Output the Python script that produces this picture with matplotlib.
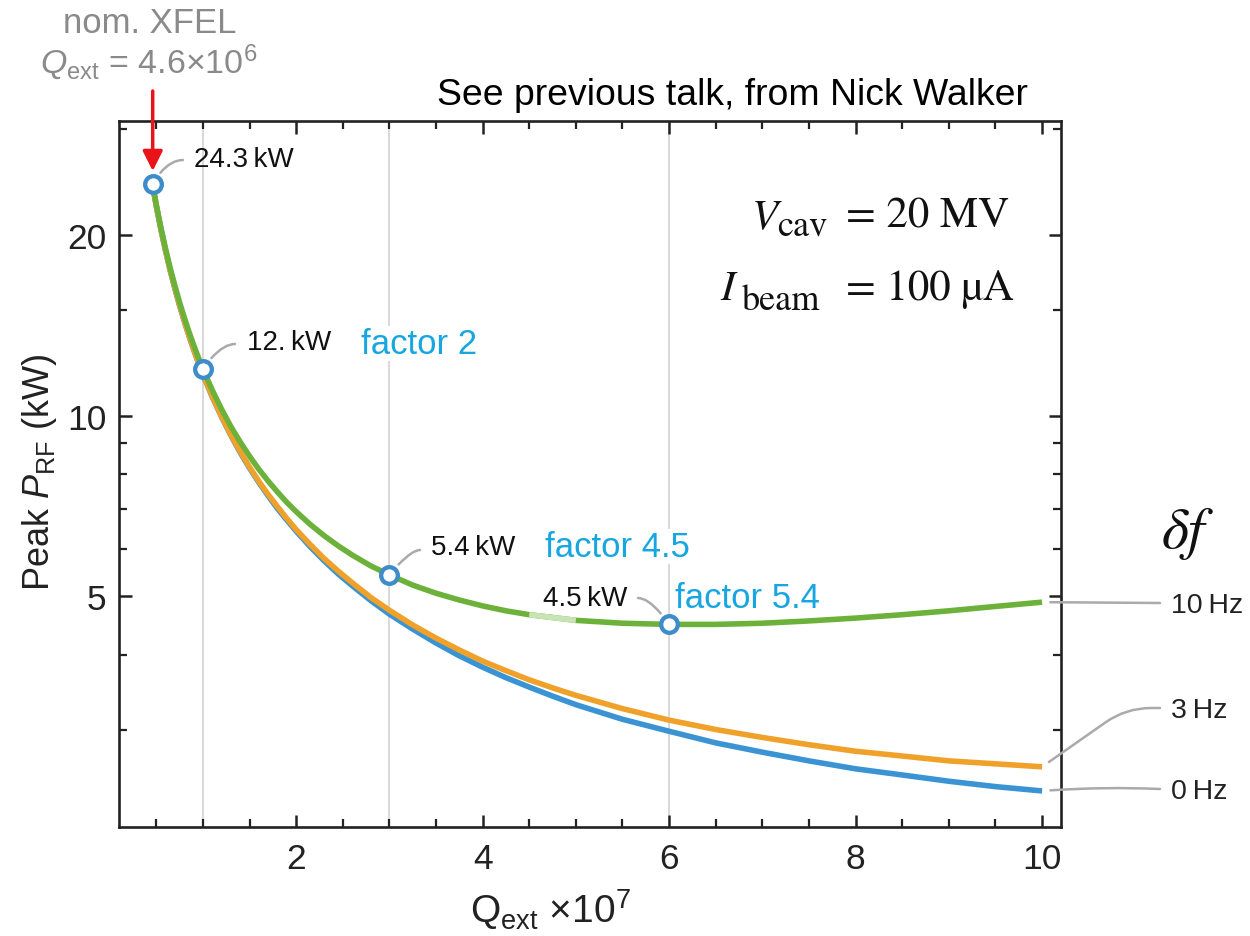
import matplotlib
matplotlib.use('Agg')
import matplotlib.pyplot as plt
from matplotlib.patches import FancyArrowPatch
from matplotlib.ticker import FixedLocator, NullFormatter, FixedFormatter

# ---------------- data ----------------
q_ext = [0.46, 0.5, 0.55, 0.6, 0.65, 0.7, 0.75, 0.8, 0.85, 0.9, 0.95, 1.0, 1.1, 1.2,
         1.3, 1.4, 1.5, 1.6, 1.7, 1.8, 1.9, 2.0, 2.15, 2.3, 2.45, 2.6, 2.8, 3.0,
         3.25, 3.5, 3.75, 4.0, 4.25, 4.5, 4.75, 5.0, 5.5, 6.0, 6.5, 7.0, 7.5, 8.0,
         8.5, 9.0, 9.5, 10.0]
p_0hz = [24.19, 22.34, 20.41, 18.80, 17.43, 16.27, 15.25, 14.37, 13.59, 12.89, 12.27,
         11.71, 10.75, 9.95, 9.27, 8.68, 8.18, 7.74, 7.35, 7.00, 6.70, 6.42, 6.05,
         5.73, 5.45, 5.21, 4.92, 4.67, 4.41, 4.18, 3.98, 3.81, 3.66, 3.53, 3.41,
         3.30, 3.12, 2.98, 2.85, 2.75, 2.66, 2.58, 2.52, 2.46, 2.41, 2.37]
p_3hz = [24.20, 22.35, 20.42, 18.81, 17.44, 16.29, 15.27, 14.39, 13.61, 12.91, 12.29,
         11.73, 10.77, 9.97, 9.29, 8.71, 8.21, 7.77, 7.39, 7.05, 6.74, 6.46, 6.10,
         5.78, 5.51, 5.27, 4.98, 4.74, 4.48, 4.26, 4.07, 3.90, 3.76, 3.63, 3.52,
         3.42, 3.25, 3.11, 3.00, 2.91, 2.83, 2.76, 2.71, 2.66, 2.63, 2.60]
p_10hz = [24.31, 22.47, 20.55, 18.95, 17.59, 16.45, 15.44, 14.57, 13.80, 13.12, 12.51,
          11.96, 11.03, 10.25, 9.59, 9.04, 8.56, 8.14, 7.78, 7.46, 7.17, 6.92, 6.59,
          6.31, 6.07, 5.86, 5.62, 5.43, 5.22, 5.06, 4.93, 4.82, 4.73, 4.66, 4.61,
          4.56, 4.51, 4.49, 4.49, 4.51, 4.55, 4.60, 4.66, 4.73, 4.81, 4.89]
series_labels = ['0\u2009Hz', '3\u2009Hz', '10\u2009Hz']

marker_q = [0.46, 1.0, 3.0, 6.0]
marker_p = [24.3, 11.96, 5.43, 4.49]
marker_labels = ['24.3\u2009kW', '12.\u2009kW', '5.4\u2009kW', '4.5\u2009kW']
factor_labels = ['factor 2', 'factor 4.5', 'factor 5.4']
grid_q = [1.0, 3.0, 6.0]

x_major = [2, 4, 6, 8, 10]
x_minor = [0.5, 1, 1.5, 2.5, 3, 3.5, 4.5, 5, 5.5, 6.5, 7, 7.5, 8.5, 9, 9.5]
y_major = [5, 10, 20]
y_minor = [3, 4, 6, 7, 8, 9, 15, 30]

# ---------------- style ----------------
plt.rcParams['font.family'] = ['Liberation Sans', 'DejaVu Sans']
plt.rcParams['mathtext.fontset'] = 'custom'
plt.rcParams['mathtext.rm'] = 'Liberation Sans'
plt.rcParams['mathtext.it'] = 'Liberation Sans:italic'
plt.rcParams['mathtext.bf'] = 'Liberation Sans:bold'

C_BLUE = '#3a93d2'
C_ORANGE = '#f0a12a'
C_GREEN = '#6cb13a'
C_PALE = '#c9e4b4'
C_MARK = '#3f8cca'
C_FACTOR = '#17a6e0'
C_LEAD = '#aaaaaa'
C_GRAYTXT = '#8a8a8a'

W, H = 1250, 937
fig = plt.figure(figsize=(W / 100, H / 100), dpi=100)


def fx(x):
    return x / W


def fy(y):
    return 1 - y / H


ax = fig.add_axes([fx(119), fy(828), (1060.7 - 119) / W, (828 - 121.7) / H])
ax.set_yscale('log')
ax.set_xlim(0.1, 10.2)
ax.set_ylim(2.064, 31.0)

for s in ax.spines.values():
    s.set_linewidth(1.9)
    s.set_color('#222222')

ax.xaxis.set_major_locator(FixedLocator(x_major))
ax.xaxis.set_minor_locator(FixedLocator(x_minor))
ax.xaxis.set_major_formatter(FixedFormatter([str(v) for v in x_major]))
ax.xaxis.set_minor_formatter(NullFormatter())
ax.yaxis.set_major_locator(FixedLocator(y_major))
ax.yaxis.set_minor_locator(FixedLocator(y_minor))
ax.yaxis.set_major_formatter(FixedFormatter([str(v) for v in y_major]))
ax.yaxis.set_minor_formatter(NullFormatter())
ax.tick_params(which='both', direction='in', top=True, right=True,
               color='#222222', labelsize=25.5, labelcolor='#222222')
ax.tick_params(which='major', length=9, width=1.8)
ax.tick_params(which='minor', length=6, width=1.6)
ax.tick_params(axis='x', pad=11)
ax.tick_params(axis='y', pad=9)

for g in grid_q:
    ax.axvline(g, color='#d6d6d6', lw=1.3, zorder=0.5)

LW = 4.0
ax.plot(q_ext, p_0hz, color=C_BLUE, lw=LW, solid_capstyle='butt', zorder=2)
ax.plot(q_ext, p_3hz, color=C_ORANGE, lw=LW, solid_capstyle='butt', zorder=2.1)
ax.plot(q_ext, p_10hz, color=C_GREEN, lw=LW, solid_capstyle='butt', zorder=2.2)
i0, i1 = q_ext.index(4.5), q_ext.index(5.0)
ax.plot(q_ext[i0:i1 + 1], p_10hz[i0:i1 + 1], color=C_PALE, lw=LW,
        solid_capstyle='butt', zorder=2.3)

ax.plot(marker_q, marker_p, ls='none', marker='o', ms=12, mew=3.1,
        mfc='white', mec=C_MARK, zorder=5, clip_on=False)

# marker callouts: label positions (pixels) and leader ends
label_pos = [(194, 167, 'left'), (247, 350, 'left'), (431, 555, 'left'), (627, 606, 'right')]
lead_end = [(183, 161, 60), (235, 345, 55), (420, 551, 50), (638, 599, 125)]
for q, p, txt, (lx, ly, ha), (ex, ey, ang) in zip(marker_q, marker_p, marker_labels,
                                                   label_pos, lead_end):
    fig.text(fx(lx), fy(ly), txt, ha=ha, va='baseline', fontsize=20, color='#111111')
    ax.annotate('', xy=(q, p), xycoords='data', xytext=(ex, H - ey),
                textcoords='figure pixels',
                arrowprops=dict(arrowstyle='-', color=C_LEAD, lw=1.8,
                                shrinkA=0, shrinkB=10,
                                connectionstyle='angle3,angleA=0,angleB=%d' % ang),
                zorder=3)

factor_pos = [(361, 354), (545, 557), (675, 608)]
for txt, (lx, ly) in zip(factor_labels, factor_pos):
    fig.text(fx(lx), fy(ly), txt, ha='left', va='baseline', fontsize=25,
             color=C_FACTOR, zorder=4,
             bbox=dict(facecolor='white', edgecolor='none', pad=1))

# right-hand series labels
end_vals = [p_0hz[-1], p_3hz[-1], p_10hz[-1]]
lab_y = [790, 709, 604]
conn = ['arc3,rad=0.03', 'angle,angleA=0,angleB=35,rad=25', 'arc3,rad=0']
for lab, v, ly, cs in zip(series_labels, end_vals, lab_y, conn):
    fig.text(fx(1171), fy(ly + 9), lab, ha='left', va='baseline', fontsize=20.5,
             color='#222222')
    ax.annotate('', xy=(q_ext[-1], v), xycoords='data', xytext=(1160, H - ly),
                textcoords='figure pixels', annotation_clip=False,
                arrowprops=dict(arrowstyle='-', color=C_LEAD, lw=1.8,
                                shrinkA=0, shrinkB=6, connectionstyle=cs))

fig.text(fx(1188), fy(534), r'$\delta f$', ha='center', va='center', fontsize=42,
         math_fontfamily='stix', color='#111111')

# parameter box (serif, Cambria-like layout built from pieces)
SERIF = ['STIXGeneral', 'DejaVu Serif']
fig.text(fx(752), fy(228), 'V', ha='left', va='baseline', fontsize=31,
         family=SERIF, style='italic', color='#111111')
fig.text(fx(777), fy(235), 'cav', ha='left', va='baseline', fontsize=26,
         family=SERIF, color='#111111')
fig.text(fx(846), fy(228), '= 20 MV', ha='left', va='baseline', fontsize=31,
         family=SERIF, color='#111111')
fig.text(fx(720), fy(300), 'I', ha='left', va='baseline', fontsize=31,
         family=SERIF, style='italic', color='#111111')
fig.text(fx(742), fy(310), 'beam', ha='left', va='baseline', fontsize=26,
         family=SERIF, color='#111111')
fig.text(fx(846), fy(300), '= 100 µA', ha='left', va='baseline', fontsize=31,
         family=SERIF, color='#111111')

# axis labels
fig.text(fx(40), fy(472), r'Peak $P_{\mathrm{RF}}$ (kW)', rotation=90, ha='center',
         va='center', fontsize=26, color='#222222')
fig.text(fx(550), fy(910), r'Q$_{\mathrm{ext}}$ ×10$^{7}$', ha='center', va='center',
         fontsize=28, color='#222222')

# note and nominal XFEL annotation
fig.text(fx(437), fy(105), 'See previous talk, from Nick Walker', ha='left',
         va='baseline', fontsize=26.9, color='black')
fig.text(fx(149.5), fy(33), 'nom. XFEL', ha='center', va='baseline', fontsize=25,
         color=C_GRAYTXT)
fig.text(fx(149), fy(73), r'$Q_{\mathrm{ext}}$ = 4.6×10$^{6}$', ha='center',
         va='baseline', fontsize=24.5, color=C_GRAYTXT)
fig.patches.append(FancyArrowPatch(
    (152.7, H - 92), (152.7, H - 172), transform=None,
    arrowstyle='-|>,head_length=0.6,head_width=0.3', mutation_scale=20,
    color='#e8141a', lw=2.5, shrinkA=0, shrinkB=0))

fig.savefig('out.png', dpi=100)
